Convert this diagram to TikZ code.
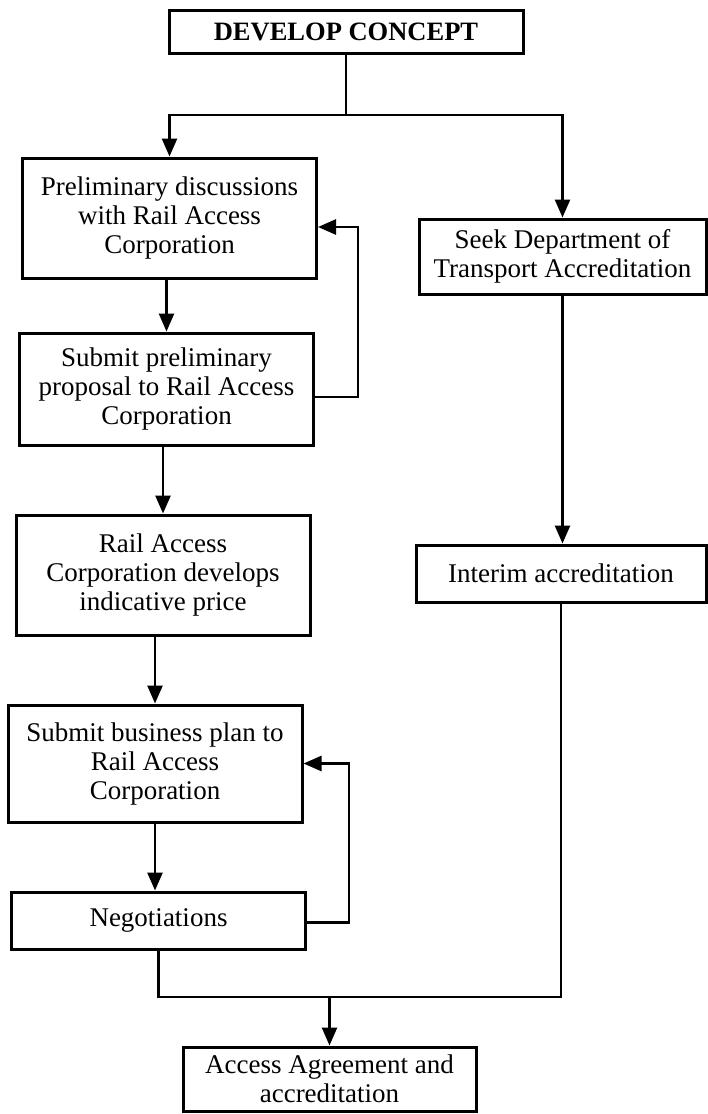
\documentclass[tikz,border=0pt]{standalone}
\usepackage{fontspec}
\setmainfont{Liberation Serif}
\usetikzlibrary{arrows.meta,positioning}

\begin{document}
\begin{tikzpicture}[x=1pt,y=-1pt,>={Triangle[length=18pt,width=15pt]},
  box/.style={draw,line width=3pt,align=center,inner sep=0pt,
    minimum width=294pt,font=\fontsize{27}{29}\selectfont},
  flow/.style={line width=2.6pt}]
\useasboundingbox (0,0) rectangle (707,1114);
% left column
\node[box,minimum width=354pt,minimum height=43pt,
  font=\bfseries\fontsize{26.5}{29}\selectfont] (concept) at (346,31.5) {DEVELOP CONCEPT};
\node[box,minimum height=120pt] (prelim) at (169.5,218)
  {Preliminary discussions\\with Rail Access\\Corporation};
\node[box,minimum height=112pt] (subprop) at (166.5,389)
  {Submit preliminary\\proposal to Rail Access\\Corporation};
\node[box,minimum height=120pt] (develops) at (163,575)
  {Rail Access\\Corporation develops\\indicative price};
\node[box,minimum height=117pt] (bizplan) at (155,763.5)
  {Submit business plan to\\Rail Access\\Corporation};
\node[box,minimum height=57pt] (negot) at (158.5,920.5) {Negotiations};
% right column
\node[box,minimum width=287pt,minimum height=75pt] (seek) at (562.5,256.5)
  {Seek Department of\\Transport Accreditation};
\node[box,minimum width=290pt,minimum height=57pt] (interim) at (561,573.5)
  {Interim accreditation};
% result
\node[box,minimum width=293pt,minimum height=64pt] (agree) at (329.5,1079)
  {Access Agreement and\\accreditation};

\coordinate (split) at (346,115);
\coordinate (merge) at (329.5,997);

\draw[flow] (concept.south) -- (split);
\draw[flow,->] (split) -| (prelim.north);
\draw[flow,->] (split) -| (seek.north);
\draw[flow,->] (subprop.north |- prelim.south) -- (subprop.north);
\draw[flow,->] (develops.north |- subprop.south) -- (develops.north);
\draw[flow,->] (bizplan.north |- develops.south) -- (bizplan.north);
\draw[flow,->] (bizplan.south) -- (bizplan.south |- negot.north);
\draw[flow,->] (seek.south) -- (seek.south |- interim.north);
% loops back
\draw[flow,->] ([yshift=-8pt]subprop.east) -- ++(43,0) |- ([yshift=-9pt]prelim.east);
\draw[flow,->] ([yshift=-2pt]negot.east) -- ++(42,0) |- (bizplan.east);
% both paths join
\draw[flow] (negot.south) |- (merge) -| (interim.south);
\draw[flow,->] (merge) -- (agree.north);
\end{tikzpicture}
\end{document}
